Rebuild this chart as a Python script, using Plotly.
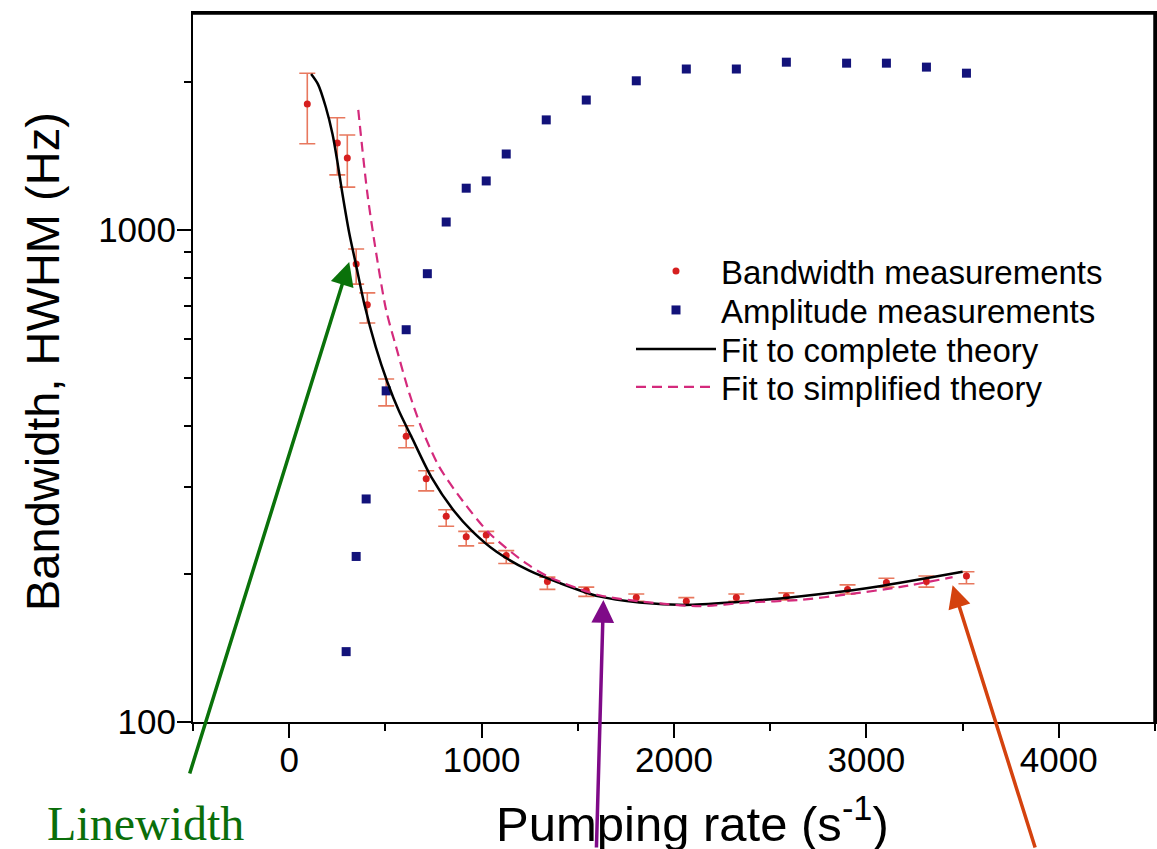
import plotly.graph_objects as go

# ---- data ----
bw_rate = [94, 250, 302, 348, 406, 504, 608, 712, 816, 920, 1024, 1128, 1342, 1544, 1804, 2064, 2324, 2584, 2902, 3104, 3312, 3520]
bw_hwhm = [1803, 1503, 1400, 853, 705, 471, 381, 312, 262, 238, 240, 218, 193, 185, 179, 176, 179, 180, 186, 192, 193, 198]
bw_err_up = [280, 188, 160, 62, 40, 27, 19, 12, 8, 6, 4, 5, 4, 3, 3, 3, 3, 3, 4, 4, 5, 4]
bw_err_dn = [306, 209, 178, 77, 58, 32, 20, 17, 12, 10, 9, 8, 7, 5, 3, 3, 3, 3, 4, 4, 5, 7]

amp_rate = [296, 348, 400, 504, 608, 718, 816, 920, 1024, 1128, 1336, 1544, 1804, 2064, 2324, 2584, 2897, 3104, 3312, 3520]
amp_val = [139, 217, 284, 471, 627, 815, 1038, 1216, 1258, 1427, 1674, 1837, 2010, 2124, 2124, 2193, 2183, 2183, 2143, 2083]

full_rate = [114, 150, 190, 225, 250, 276, 312, 348, 390, 450, 510, 570, 634, 738, 858, 952, 1076, 1248,
             1400, 1610, 1820, 2060, 2300, 2650, 3000, 3500]
full_fit = [2075, 1977, 1778, 1567, 1380, 1189, 986, 847, 708, 578, 491, 429, 381, 315, 268, 244, 222, 203,
            192, 180, 175, 173, 175, 180, 187, 202]

simp_rate = [359, 406, 452, 504, 556, 624, 692, 780, 900, 1040, 1232, 1352, 1612, 1872, 2132, 2392, 2652, 2912, 3172, 3448]
simp_fit = [1754, 1189, 898, 687, 578, 466, 392, 330, 282, 242, 210, 197, 181, 175, 172, 175, 177, 182, 188, 197]

x_ticks = [0, 1000, 2000, 3000, 4000]
x_minor = [-500, 500, 1500, 2500, 3500, 4500]
y_ticks = [100, 1000]
y_minor = [200, 300, 400, 500, 600, 700, 800, 900, 2000]

series_names = ["Bandwidth measurements", "Amplitude measurements",
                "Fit to complete theory", "Fit to simplified theory"]

FONT = "Liberation Sans, Arial, sans-serif"

fig = go.Figure()

fig.add_trace(go.Scatter(
    x=bw_rate, y=bw_hwhm, mode="markers", name=series_names[0], legend="legend",
    marker=dict(color="#d61f1f", size=7, symbol="circle"),
    error_y=dict(type="data", symmetric=False, array=bw_err_up, arrayminus=bw_err_dn,
                 color="#e8785e", thickness=1.6, width=8),
))
fig.add_trace(go.Scatter(
    x=amp_rate, y=amp_val, mode="markers", name=series_names[1], legend="legend2",
    marker=dict(color="#12127a", size=9, symbol="square"),
))
fig.add_trace(go.Scatter(
    x=full_rate, y=full_fit, mode="lines", name=series_names[2], legend="legend3",
    line=dict(color="black", width=2.5, shape="spline", smoothing=0.8),
))
fig.add_trace(go.Scatter(
    x=simp_rate, y=simp_fit, mode="lines", name=series_names[3], legend="legend4",
    line=dict(color="#d42a7c", width=2.2, dash="10px,6px", shape="spline", smoothing=0.8),
))

annotations = [
    dict(x=312, y=2.935, xref="x", yref="y", ax=-160, ay=513, axref="pixel", ayref="pixel",
         text="", showarrow=True, arrowhead=2, arrowsize=1.35, arrowwidth=3.5, arrowcolor="#0a720a"),
    dict(x=1633, y=2.248, xref="x", yref="y", ax=-7, ay=260, text="", showarrow=True,
         arrowhead=2, arrowsize=1.3, arrowwidth=3.5, arrowcolor="#7f0a88"),
    dict(x=3448, y=2.278, xref="x", yref="y", ax=83, ay=285, text="", showarrow=True,
         arrowhead=2, arrowsize=1.3, arrowwidth=3.5, arrowcolor="#d4420e"),
    dict(x=(145 - 193) / 962, y=(722 - 823) / 709, xref="paper", yref="paper", text="Linewidth",
         showarrow=False,
         font=dict(family="Liberation Serif, Times New Roman, serif", size=48, color="#0a6e0a"),
         xanchor="center", yanchor="middle"),
    dict(x=(692 - 193) / 962, y=(722 - 820) / 709, xref="paper", yref="paper",
         text="Pumping rate (s<sup>-1</sup>)", showarrow=False,
         font=dict(family=FONT, size=49, color="black"), xanchor="center", yanchor="middle"),
    dict(x=(42 - 193) / 962, y=(722 - 362) / 709, xref="paper", yref="paper",
         text="Bandwidth, HWHM (Hz)", showarrow=False, textangle=-90,
         font=dict(family=FONT, size=47, color="black"), xanchor="center", yanchor="middle"),
]

leg_common = dict(x=0.4553, xanchor="left", yanchor="top", bgcolor="rgba(0,0,0,0)",
                  font=dict(family=FONT, size=33, color="black"), itemwidth=80)

fig.update_layout(
    width=1157, height=849,
    margin=dict(l=193, r=2, t=13, b=127, autoexpand=False),
    paper_bgcolor="white", plot_bgcolor="white",
    font=dict(family=FONT, color="black"),
    showlegend=True,
    legend=dict(y=(722 - 243) / 709, **leg_common),
    legend2=dict(y=(722 - 282) / 709, **leg_common),
    legend3=dict(y=(722 - 321) / 709, **leg_common),
    legend4=dict(y=(722 - 359) / 709, **leg_common),
    annotations=annotations,
    shapes=[
        dict(type="line", xref="paper", yref="paper", x0=0, x1=1, y0=1, y1=1,
             line=dict(color="black", width=3.5)),
        dict(type="line", xref="paper", yref="paper", x0=1, x1=1, y0=0, y1=1,
             line=dict(color="black", width=3.5)),
    ],
)

fig.update_xaxes(
    range=[-500, 4500], showline=True, linecolor="black", linewidth=2, mirror=True,
    showgrid=False, zeroline=False, automargin=False,
    tickmode="array", tickvals=x_ticks, ticktext=[str(v) for v in x_ticks],
    ticks="outside", ticklen=14, tickwidth=2, tickcolor="black",
    tickfont=dict(family=FONT, size=35), ticklabelstandoff=-8,
    minor=dict(tickvals=x_minor, ticks="outside", ticklen=7, tickwidth=2, tickcolor="black"),
)
fig.update_yaxes(
    type="log", range=[2, 3.441], showline=True, linecolor="black", linewidth=2, mirror=True,
    showgrid=False, zeroline=False, automargin=False,
    tickmode="array", tickvals=y_ticks, ticktext=[str(v) for v in y_ticks],
    ticks="outside", ticklen=14, tickwidth=2, tickcolor="black",
    tickfont=dict(family=FONT, size=35), ticklabelstandoff=-6,
    minor=dict(tickvals=y_minor, ticks="outside", ticklen=7, tickwidth=2, tickcolor="black"),
)

fig.write_html("out.html", config={"displayModeBar": False},
               post_script="document.body.style.margin='0';document.body.style.overflow='hidden';")
